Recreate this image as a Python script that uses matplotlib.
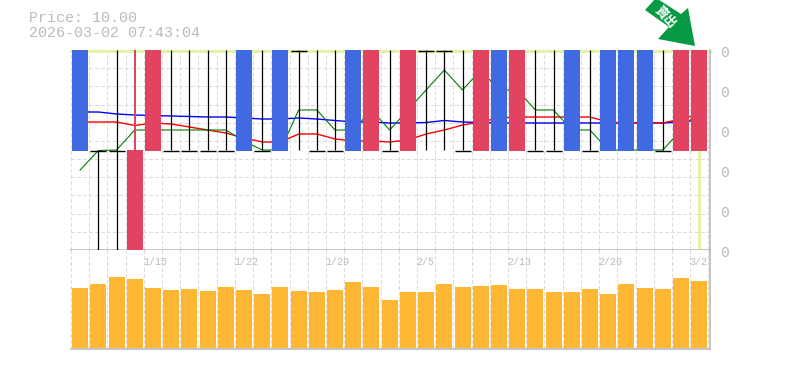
#! /usr/bin/env python3
# coding: utf-8

"""
K-line chart with price lines and a volume panel
"""

import matplotlib
matplotlib.use('Agg')
import matplotlib.pyplot as plt
from matplotlib.patches import Polygon

W, H = 785, 370
GREY = '#bbbbbb'
GRID = '#dddddd'
BLUE = '#4169e1'
RED = '#e24360'
LIME = '#e2f2a6'
MONO = 'Liberation Mono'
DASH = (0, (4, 3))
THIN = 0.7

# u = body up (red), d = body down (blue), n = no body (black doji)
kinds = list('dnnuunnnndndnnndununnnudunndndddnuu')
# doji level for the black candles
doji_level = [None, 99.5, 99.5, None, None, 99.5, 99.5, 99.5, 99.5, None, 99.5, None, 199.5, 99.5, 99.5, None, None,
              99.5, None, 199.5, 199.5, 99.5, None, None, None, 99.5, 99.5, None, 99.5, None, None, None, 99.5,
              None, None]
wick_low = [None, 0, 0, 100, None, 100, 100, 100, 100, None, 100, None, 100, 100, 100, None, None,
            100, None, 100, 100, 100, None, None, None, 100, 100, None, 100, None, None, None, 100, None, None]
wick_high = [None, 100, 200, 200, None, 200, 200, 200, 200, None, 200, None, 200, 200, 200, None, None,
             200, None, 200, 200, 200, None, None, None, 200, 200, None, 200, None, None, None, 200, None, None]

line_blue = [138, 138, 136, 135, 134.5, 134, 133.5, 133, 133, 132, 131, 131, 132, 131, 129.5, 128, 128, 127,
             127, 127.5, 129.5, 128, 127.5, 127, 127, 127, 127, 127, 127, 127, 127, 127, 127, 128, 130]
line_red = [128, 128, 128, 124.5, 127, 126, 123, 120, 117, 112, 108, 108, 116, 116, 111, 109, 109, 108,
            110, 116, 120, 125, 128, 132, 133, 133, 133, 133, 133, 128, 127, 127, 127, 131, 136]
line_green = [80, 99.5, 100, 120, 120, 120, 120, 120, 120, 109, 100, 100, 140, 140, 120, 120, 140, 120,
              140, 160, 180, 160, 180, 160, 160, 140, 140, 120, 120, 100, 100, 100, 100, 120, 140]
volume = [60, 64, 71, 69, 60, 58, 59, 57, 61, 58, 54, 61, 57, 56, 58, 66, 61, 48,
          56, 56, 64, 61, 62, 63, 59, 59, 56, 56, 59, 54, 64, 60, 59, 70, 67]

date_labels = ['1/15', '1/22', '1/29', '2/5', '2/13', '2/20', '3/2']
date_slots = [4, 9, 14, 19, 24, 29, 34]
price_labels = ['0', '0', '0', '0', '0', '0']
price_ticks = [200, 160, 120, 80, 40, 0]


def px_axes(fig, left, top, right, bottom):
    """Axes placed with pixel coordinates, top-left origin"""
    return fig.add_axes([left / W, 1 - bottom / H, (right - left) / W, (bottom - top) / H])


def style_axes(ax):
    for side in ('left', 'top'):
        ax.spines[side].set_visible(False)
    for side in ('right', 'bottom'):
        ax.spines[side].set_color(GREY)
        ax.spines[side].set_linewidth(1.2)
    ax.tick_params(length=0, labelleft=False, labelbottom=False)
    ax.set_xlim(0, 35.09)
    ax.set_xticks(range(36))
    ax.grid(axis='x', color=GRID, ls=DASH, lw=THIN, antialiased=False)
    ax.set_axisbelow(True)


fig = plt.figure(figsize=(W / 100, H / 100), dpi=100)

# price panel
ax = px_axes(fig, 71, 50, 710, 250)
style_axes(ax)
ax.set_ylim(0, 200)
ax.set_yticks([i * 200 / 11 for i in range(12)])
ax.grid(axis='y', color=GRID, ls=DASH, lw=THIN, antialiased=False)

xs = [i + 0.5 for i in range(len(volume))]
ax.plot([0, 35.09], [198.7, 198.7], c=LIME, lw=2.2, zorder=1.5, clip_on=False)
ax.plot([34.5, 34.5], [1, 100], c=LIME, lw=2.2, zorder=1.5)
ax.plot(xs, line_blue, c='#0000ff', lw=1, zorder=2)
ax.plot(xs, line_red, c='#ff0000', lw=1, zorder=2.1)
ax.plot(xs, line_green, c='#007f00', lw=0.8, zorder=2.2)

for i, kind in enumerate(kinds):
    if kind == 'n':
        ax.vlines(xs[i], wick_low[i], wick_high[i], color='black', lw=0.9, zorder=3)
        ax.hlines(doji_level[i], i + 0.06, i + 0.94, color='black', lw=1, zorder=3, clip_on=False)
    elif i == 3:
        ax.bar(xs[i], 100, bottom=0, width=0.88, color=RED, zorder=4)
        ax.vlines(xs[i], wick_low[i], wick_high[i], color=RED, lw=1.1, zorder=4, antialiased=False)
    else:
        ax.bar(xs[i], 101, bottom=99, width=0.88, color=BLUE if kind == 'd' else RED, zorder=4)

for tick, label in zip(price_ticks, price_labels):
    ax.annotate(label, (1, tick), xycoords=('axes fraction', 'data'), xytext=(10.2, -2.4),
                textcoords='offset points', family=MONO, fontsize=10.5, color=GREY, va='center', ha='center',
                annotation_clip=False)

# volume panel
ax2 = px_axes(fig, 71, 250, 710, 349)
style_axes(ax2)
ax2.set_ylim(-1, 98)
ax2.bar(xs, volume, width=0.88, color='#ffb733', zorder=3)
for slot, label in zip(date_slots, date_labels):
    ax2.annotate(label, (slot, 1), xycoords=('data', 'axes fraction'), xytext=(-0.7, -8.6),
                 textcoords='offset points', family=MONO, fontsize=7.2, color=GREY, va='center', ha='left',
                 zorder=5)

# header
fig.text(29 / W, 1 - 18 / H, 'Price: 10.00', family=MONO, fontsize=10.8, color=GREY, va='center')
fig.text(29 / W, 1 - 33 / H, '2026-03-02 07:43:04', family=MONO, fontsize=10.8, color=GREY, va='center')

# green arrow with its label
arrow = [(645, 10), (656, -2), (681, 14), (688, 8), (695, 46), (658, 39), (669, 27)]
fig.add_artist(Polygon([(x / W, 1 - y / H) for x, y in arrow], closed=True, color='#069a45',
                       transform=fig.transFigure, lw=0))
fig.text(665.5 / W, 1 - 16.5 / H, '賣出', family=['Noto Sans CJK TC', 'DejaVu Sans'], fontsize=9, color='white',
         weight='bold', rotation=-48, ha='center', va='center', rotation_mode='anchor')

fig.savefig('out.png', dpi=100)
